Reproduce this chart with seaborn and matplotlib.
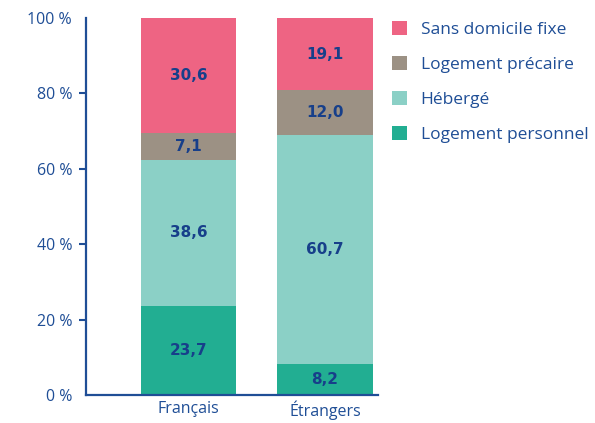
import numpy as np
import pandas as pd
import matplotlib
matplotlib.use("Agg")
import matplotlib.pyplot as plt
import seaborn as sns
from matplotlib.patches import Patch

# Data (percent)
groups = ["Français", "Étrangers"]
categories = ["Logement personnel", "Hébergé", "Logement précaire", "Sans domicile fixe"]
logement_personnel = [23.7, 8.2]
heberge = [38.6, 60.7]
logement_precaire = [7.1, 12.0]
sans_domicile = [30.6, 19.1]
yticks = [0, 20, 40, 60, 80, 100]
ytick_labels = ["0 %", "20 %", "40 %", "60 %", "80 %", "100 %"]

colors = ["#22ae92", "#8bd0c6", "#9c9184", "#ee6483"]
navy = "#1f4e96"
label_navy = "#173f8a"

sns.set_style("white")
plt.rcParams["font.family"] = ["Open Sans", "DejaVu Sans"]

values = np.array([logement_personnel, heberge, logement_precaire, sans_domicile])
tops = values.cumsum(axis=0)
bottoms = tops - values

fig = plt.figure(figsize=(5.95, 4.23), dpi=100)
ax = fig.add_axes([86 / 595, 1 - 395 / 423, (378 - 86) / 595, (395 - 18) / 423])

# draw stacked bars from the top layer down so each one covers the one below
for i in range(len(categories) - 1, -1, -1):
    df = pd.DataFrame({"groupe": groups, "cum": tops[i]})
    sns.barplot(data=df, x="groupe", y="cum", color=colors[i], width=0.7,
                saturation=1, edgecolor="none", ax=ax)

for i in range(len(categories)):
    for j in range(len(groups)):
        ax.text(j, (bottoms[i, j] + tops[i, j]) / 2, f"{values[i, j]:.1f}".replace(".", ","),
                ha="center", va="center", fontsize=11, fontweight="bold",
                family=["DejaVu Sans"], color=label_navy)

ax.set_xlim(-0.751, 1.388)
ax.set_ylim(0, 100)
ax.set_yticks(yticks)
ax.set_yticklabels(ytick_labels)
ax.set_xlabel("")
ax.set_ylabel("")

for s in ["top", "right"]:
    ax.spines[s].set_visible(False)
for s in ["left", "bottom"]:
    ax.spines[s].set_color(navy)
    ax.spines[s].set_linewidth(1.6)

ax.tick_params(axis="y", colors=navy, labelsize=11.5, length=5, width=1.5, pad=5, left=True)
ax.tick_params(axis="x", colors=navy, labelsize=11.5, length=0, pad=4)
yt = ax.yaxis.get_major_ticks()
yt[0].tick1line.set_visible(False)
yt[-1].tick1line.set_visible(False)

handles = [Patch(facecolor=colors[i], edgecolor="none", label=categories[i])
           for i in range(len(categories) - 1, -1, -1)]
leg = fig.legend(handles=handles, loc="upper left", bbox_to_anchor=(385 / 595, 1 - 14 / 423),
                 frameon=False, fontsize=12.5, handlelength=0.85, handleheight=0.85,
                 handletextpad=0.8, labelspacing=1.05, borderaxespad=0)
for t in leg.get_texts():
    t.set_color(navy)

fig.savefig("out.png", dpi=100)
